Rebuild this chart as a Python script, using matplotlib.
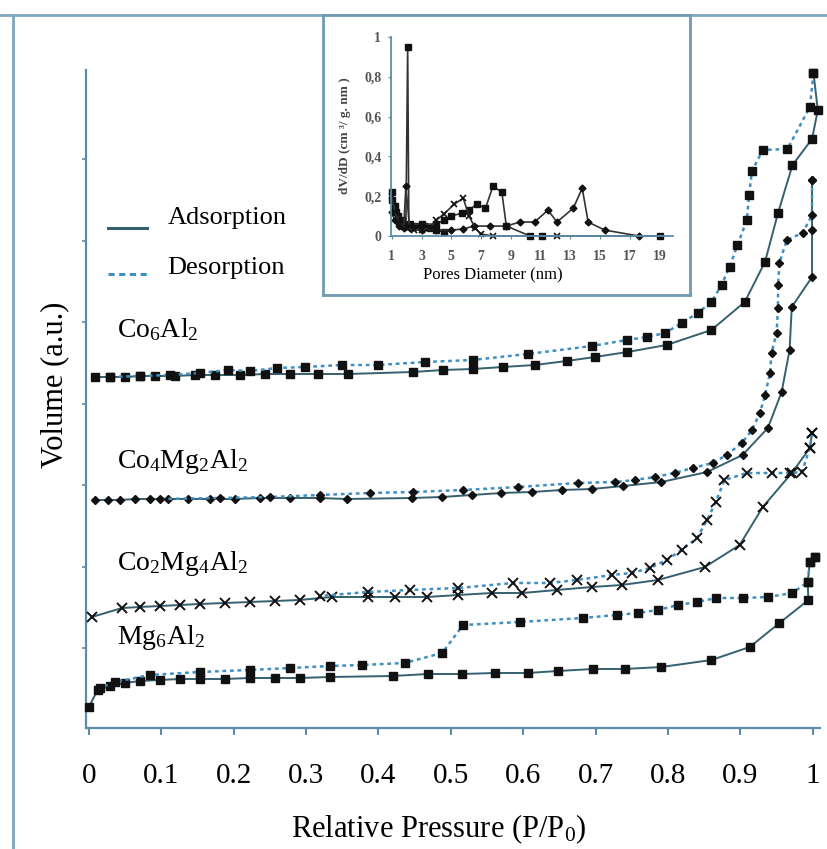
import numpy as np
import matplotlib
matplotlib.use("Agg")
import matplotlib.pyplot as plt
from matplotlib.lines import Line2D

# ---------------- data ----------------
x_ticks = [0, 0.1, 0.2, 0.3, 0.4, 0.5, 0.6, 0.7, 0.8, 0.9, 1.0]
x_ticklabels = ["0", "0.1", "0.2", "0.3", "0.4", "0.5", "0.6", "0.7", "0.8", "0.9", "1"]

co6_ads_x = [0.008, 0.029, 0.050, 0.070, 0.091, 0.119, 0.146, 0.174, 0.209, 0.243, 0.278, 0.316,
             0.358, 0.448, 0.489, 0.530, 0.572, 0.616, 0.660, 0.699, 0.744, 0.798, 0.860, 0.906,
             0.934, 0.952, 0.972, 0.999, 1.007, 1.001]
co6_ads_y = [35.1, 35.1, 35.1, 35.2, 35.2, 35.2, 35.3, 35.3, 35.3, 35.4, 35.4, 35.4,
             35.4, 35.6, 35.8, 35.9, 36.1, 36.3, 36.7, 37.1, 37.6, 38.3, 39.8, 42.6,
             46.6, 51.5, 56.3, 58.9, 61.8, 65.5]
co6_des_x = [1.001, 0.996, 0.965, 0.931, 0.916, 0.912, 0.909, 0.896, 0.885, 0.874, 0.860, 0.841,
             0.819, 0.796, 0.771, 0.743, 0.695, 0.606, 0.530, 0.464, 0.399, 0.349, 0.298, 0.260,
             0.222, 0.192, 0.153, 0.112, 0.070, 0.029]
co6_des_y = [65.5, 62.1, 57.9, 57.8, 55.7, 53.3, 50.8, 48.3, 46.1, 44.3, 42.6, 41.5,
             40.5, 39.5, 39.1, 38.8, 38.2, 37.4, 36.8, 36.6, 36.3, 36.3, 36.1, 36.0,
             35.7, 35.8, 35.5, 35.3, 35.2, 35.1]

co4_ads_x = [0.008, 0.026, 0.043, 0.064, 0.084, 0.109, 0.137, 0.167, 0.202, 0.236, 0.278, 0.319,
             0.356, 0.446, 0.488, 0.529, 0.570, 0.612, 0.653, 0.695, 0.738, 0.791, 0.854, 0.903,
             0.938, 0.957, 0.968, 0.971, 0.999, 0.999, 0.999]
co4_ads_y = [22.8, 22.8, 22.8, 22.9, 22.9, 22.9, 22.9, 22.9, 22.9, 23.0, 23.0, 23.0,
             22.9, 23.0, 23.1, 23.3, 23.5, 23.6, 23.8, 23.9, 24.2, 24.6, 25.6, 27.3,
             30.0, 33.6, 37.8, 42.1, 45.1, 49.8, 54.8]
co4_des_x = [0.999, 0.999, 0.986, 0.964, 0.954, 0.952, 0.952, 0.950, 0.943, 0.941, 0.934, 0.927,
             0.916, 0.902, 0.881, 0.862, 0.834, 0.809, 0.782, 0.754, 0.727, 0.675, 0.593, 0.517,
             0.448, 0.388, 0.319, 0.250, 0.181, 0.098]
co4_des_y = [54.8, 51.3, 49.5, 48.8, 46.5, 44.3, 42.0, 39.5, 37.5, 35.5, 33.3, 31.5,
             29.8, 28.5, 27.3, 26.5, 26.0, 25.5, 25.1, 24.8, 24.6, 24.5, 24.1, 23.8,
             23.6, 23.5, 23.3, 23.1, 23.0, 22.9]

co2_ads_x = [0.004, 0.046, 0.070, 0.098, 0.126, 0.153, 0.188, 0.222, 0.257, 0.291, 0.336, 0.385,
             0.423, 0.467, 0.510, 0.557, 0.599, 0.646, 0.695, 0.736, 0.786, 0.851, 0.899, 0.931,
             0.971, 0.996, 0.999]
co2_ads_y = [11.1, 12.0, 12.1, 12.2, 12.3, 12.4, 12.5, 12.6, 12.7, 12.8, 13.1, 13.1,
             13.1, 13.1, 13.3, 13.5, 13.5, 13.8, 14.1, 14.3, 14.8, 16.1, 18.3, 22.1,
             25.5, 28.0, 29.5]
co2_des_x = [0.999, 0.996, 0.985, 0.968, 0.943, 0.909, 0.878, 0.866, 0.854, 0.840, 0.819, 0.798,
             0.775, 0.750, 0.722, 0.674, 0.637, 0.586, 0.510, 0.443, 0.385, 0.319]
co2_des_y = [29.5, 28.0, 25.6, 25.5, 25.5, 25.5, 24.8, 22.6, 20.8, 19.0, 17.8, 16.8,
             16.0, 15.5, 15.3, 14.8, 14.5, 14.5, 14.0, 13.8, 13.6, 13.2]

mg6_ads_x = [0.000, 0.012, 0.029, 0.050, 0.070, 0.098, 0.126, 0.153, 0.188, 0.222, 0.257, 0.291,
             0.333, 0.420, 0.468, 0.515, 0.561, 0.606, 0.648, 0.696, 0.740, 0.791, 0.860, 0.913,
             0.954, 0.994, 0.993, 0.996, 1.003]
mg6_ads_y = [2.1, 3.8, 4.2, 4.5, 4.7, 4.8, 4.9, 4.9, 4.9, 5.0, 5.0, 5.0,
             5.1, 5.2, 5.4, 5.4, 5.5, 5.5, 5.7, 5.9, 5.9, 6.1, 6.8, 8.1,
             10.5, 12.8, 14.6, 16.6, 17.1]
mg6_des_x = [1.003, 0.996, 0.993, 0.972, 0.938, 0.903, 0.867, 0.840, 0.814, 0.786, 0.758, 0.729,
             0.682, 0.595, 0.517, 0.488, 0.436, 0.377, 0.333, 0.278, 0.222, 0.153, 0.084, 0.036,
             0.015]
mg6_des_y = [17.1, 16.6, 14.6, 13.5, 13.1, 13.0, 13.0, 12.6, 12.3, 11.8, 11.5, 11.3,
             11.0, 10.6, 10.3, 7.5, 6.5, 6.3, 6.2, 6.0, 5.8, 5.6, 5.3, 4.6,
             4.0]

sample_names = ["Co$_\\mathrm{6}$Al$_\\mathrm{2}$", "Co$_\\mathrm{4}$Mg$_\\mathrm{2}$Al$_\\mathrm{2}$",
                "Co$_\\mathrm{2}$Mg$_\\mathrm{4}$Al$_\\mathrm{2}$", "Mg$_\\mathrm{6}$Al$_\\mathrm{2}$"]

# inset: pore size distribution
psd_sq1_x = [1.0, 1.2, 1.4, 1.6, 1.8, 1.95, 2.07, 2.15, 2.4, 2.8, 3.2, 3.6, 4.0, 4.5]
psd_sq1_y = [0.22, 0.15, 0.10, 0.07, 0.05, 0.05, 0.95, 0.05, 0.05, 0.05, 0.05, 0.04, 0.03, 0.02]
psd_sq2_x = [1.0, 1.3, 1.7, 2.2, 3.0, 4.0, 4.5, 5.0, 5.7, 6.2, 6.7, 7.3, 7.8, 8.4, 8.7, 10.3, 11.1, 19.0]
psd_sq2_y = [0.18, 0.12, 0.08, 0.06, 0.06, 0.06, 0.08, 0.10, 0.115, 0.13, 0.16, 0.14, 0.25, 0.22, 0.05, 0.0, 0.0, 0.0]
psd_dia_x = [1.0, 1.2, 1.5, 1.8, 1.95, 2.2, 3.0, 4.0, 5.0, 5.8, 6.5, 7.6, 8.7, 9.6, 10.6, 11.5, 12.1, 13.2, 13.8, 14.2, 15.3, 17.6]
psd_dia_y = [0.12, 0.08, 0.05, 0.04, 0.25, 0.04, 0.03, 0.03, 0.03, 0.035, 0.05, 0.05, 0.05, 0.07, 0.07, 0.13, 0.07, 0.14, 0.24, 0.07, 0.03, 0.0]
psd_x_x = [1.0, 1.2, 1.5, 2.0, 2.5, 3.0, 3.5, 4.0, 4.5, 5.2, 5.8, 6.2, 6.6, 7.0, 7.8, 12.1]
psd_x_y = [0.20, 0.12, 0.07, 0.04, 0.03, 0.03, 0.04, 0.08, 0.11, 0.16, 0.19, 0.10, 0.04, 0.01, 0.0, 0.0]
inset_xticks = [1, 3, 5, 7, 9, 11, 13, 15, 17, 19]
inset_yticks = [0, 0.2, 0.4, 0.6, 0.8, 1.0]
inset_yticklabels = ["0", "0,2", "0,4", "0,6", "0,8", "1"]

# ---------------- style ----------------
plt.rcParams['font.family'] = ['Liberation Serif', 'DejaVu Serif']
plt.rcParams['mathtext.fontset'] = 'custom'
plt.rcParams['mathtext.rm'] = 'Liberation Serif'
plt.rcParams['mathtext.it'] = 'Liberation Serif:italic'
plt.rcParams['mathtext.bf'] = 'Liberation Serif:bold'

W, H = 828, 849
fig = plt.figure(figsize=(8.28, 8.49), dpi=100)
fig.patch.set_facecolor('white')


def fx(px):
    return px / W


def fy(py):
    return 1 - py / H


AXC = '#5d8ca8'
ADS_C = '#35606f'
DES_C = '#3f8fc2'

# outer frame lines of scan
fig.add_artist(Line2D([fx(0), fx(828)], [fy(15), fy(15)], transform=fig.transFigure, color='#7ea6bf', lw=2))
fig.add_artist(Line2D([fx(13), fx(13)], [fy(15), fy(849)], transform=fig.transFigure, color='#7ea6bf', lw=2))

ax = fig.add_axes([fx(86), fy(728), (820 - 86) / W, (728 - 70) / H])
ax.set_xlim(-0.004, 1.010)
ax.set_ylim(0, 65.8)
ax.patch.set_alpha(0)
for s in ['top', 'right']:
    ax.spines[s].set_visible(False)
for s in ['left', 'bottom']:
    ax.spines[s].set_color(AXC)
    ax.spines[s].set_linewidth(1.6)
ax.set_xticks(x_ticks)
ax.set_xticklabels(x_ticklabels, fontsize=21)
ax.tick_params(axis='x', direction='out', length=5, width=1.5, color=AXC, pad=20)
ax.set_yticks(np.arange(8, 65, 8.15))
ax.set_yticklabels([])
ax.tick_params(axis='y', direction='out', length=3, width=1.2, color=AXC)


def iso(xa, ya, xd, yd, marker, ms, mew=1.0):
    ax.plot(xa, ya, '-', color=ADS_C, lw=1.4, marker=marker, ms=ms, mfc='#111111', mec='#111111',
            mew=mew, clip_on=False, zorder=3)
    ax.plot(xd, yd, linestyle=(0, (1.5, 1.5)), color=DES_C, lw=1.8, marker=marker, ms=ms,
            mfc='#111111', mec='#111111', mew=mew, clip_on=False, zorder=3)


iso(co6_ads_x, co6_ads_y, co6_des_x, co6_des_y, 's', 6.0)
iso(co4_ads_x, co4_ads_y, co4_des_x, co4_des_y, 'D', 4.3)
iso(co2_ads_x, co2_ads_y, co2_des_x, co2_des_y, 'x', 6.5, mew=1.4)
iso(mg6_ads_x, mg6_ads_y, mg6_des_x, mg6_des_y, 's', 5.5)

# sample labels
label_pos = [330, 462, 563, 638]
for name, py in zip(sample_names, label_pos):
    fig.text(fx(117), fy(py), name, fontsize=20, ha='left', va='center',
             bbox=dict(facecolor='white', edgecolor='none', pad=2), zorder=5)

# axis labels
fig.text(fx(439), fy(829), 'Relative Pressure (P/P$_\\mathrm{0}$)', fontsize=22, ha='center', va='center')
fig.text(fx(55), fy(385), 'Volume (a.u.)', fontsize=22, rotation=90, ha='center', va='center')

# legend
fig.add_artist(Line2D([fx(108), fx(147)], [fy(228), fy(228)], transform=fig.transFigure, color=ADS_C, lw=2.2))
fig.add_artist(Line2D([fx(108), fx(147)], [fy(274), fy(274)], transform=fig.transFigure, color=DES_C, lw=2.2,
                      linestyle=(0, (2, 1.5))))
fig.text(fx(168), fy(218), 'Adsorption', fontsize=19, ha='left', va='center')
fig.text(fx(167), fy(268), 'Desorption', fontsize=19, ha='left', va='center')

# inset frame
box = fig.add_axes([fx(323), fy(295), (690 - 323) / W, (295 - 15) / H])
box.set_xticks([])
box.set_yticks([])
box.set_facecolor('white')
for s in box.spines.values():
    s.set_color('#6f9ab3')
    s.set_linewidth(2)
box.set_zorder(6)

ins = fig.add_axes([fx(391), fy(236), (673 - 391) / W, (236 - 37) / H])
ins.set_zorder(7)
ins.patch.set_alpha(0)
ins.set_xlim(0.95, 19.9)
ins.set_ylim(0, 1.0)
for s in ['top', 'right']:
    ins.spines[s].set_visible(False)
for s in ['left', 'bottom']:
    ins.spines[s].set_color(AXC)
    ins.spines[s].set_linewidth(1.3)
ins.set_xticks(inset_xticks)
ins.set_xticklabels([str(t) for t in inset_xticks], fontsize=10, fontweight='bold', color='#555555')
ins.set_yticks(inset_yticks)
ins.set_yticklabels(inset_yticklabels, fontsize=10, fontweight='bold', color='#555555')
ins.tick_params(axis='x', length=2, color=AXC, pad=8)
ins.tick_params(axis='y', length=2, color=AXC, pad=5)

kw = dict(color='#333333', lw=1.2, mfc='#111111', mec='#111111', clip_on=False)
ins.plot(psd_sq1_x, psd_sq1_y, marker='s', ms=4.0, **kw)
ins.plot(psd_sq2_x, psd_sq2_y, marker='s', ms=4.0, **kw)
ins.plot(psd_dia_x, psd_dia_y, marker='D', ms=3.5, **kw)
ins.plot(psd_x_x, psd_x_y, marker='x', ms=4.5, mew=1.2, **kw)

t = fig.text(fx(345), fy(136), 'dV/dD (cm ³/ g. nm )', fontsize=9.5, fontweight='bold', rotation=90,
             ha='center', va='center', color='#444444')
t.set_zorder(8)
t2 = fig.text(fx(493), fy(275), 'Pores Diameter (nm)', fontsize=12, ha='center', va='center',
              bbox=dict(facecolor='white', edgecolor='none', pad=1))
t2.set_zorder(8)

fig.savefig('out.png', dpi=100, facecolor='white')
